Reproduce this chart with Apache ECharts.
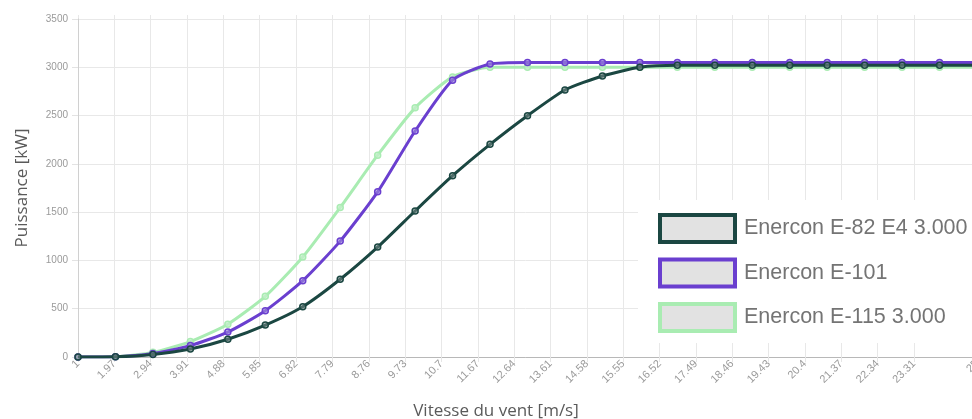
<!DOCTYPE html>
<html>
<head>
<meta charset="utf-8">
<script src="https://cdn.jsdelivr.net/npm/echarts@6/dist/echarts.min.js"></script>
<style>
  html, body { margin: 0; padding: 0; background: #fff; }
  #chart { width: 972px; height: 419px; }
</style>
</head>
<body>
<div id="chart"></div>
<script>
// Wind speeds (m/s) of the data points
const speeds = [1, 2, 3, 4, 5, 6, 7, 8, 9, 10, 11, 12, 13, 14, 15, 16, 17, 18, 19, 20, 21, 22, 23, 24, 25];
// Power (kW)
const e82 = [0, 2, 25, 82, 184, 331, 521, 805, 1138, 1512, 1877, 2202, 2499, 2765, 2910, 3000, 3020, 3020, 3020, 3020, 3020, 3020, 3020, 3020, 3020];
const e101 = [0, 3, 37, 118, 258, 479, 790, 1200, 1710, 2340, 2867, 3034, 3050, 3050, 3050, 3050, 3050, 3050, 3050, 3050, 3050, 3050, 3050, 3050, 3050];
const e115 = [0, 3, 48, 160, 340, 628, 1036, 1549, 2090, 2580, 2900, 3000, 3000, 3000, 3000, 3000, 3000, 3000, 3000, 3000, 3000, 3000, 3000, 3000, 3000];
// X tick labels: start and step of the axis ticks
const tickStart = 1;
const tickStep = 0.97;
const tickLastShown = 23.31;
const speedMax = 25;
const names = ['Enercon E-82 E4 3.000', 'Enercon E-101', 'Enercon E-115 3.000'];
const colors = ['#1b4742', '#6a3fcf', '#a9ecb2'];
const markerFill = ['rgba(120,140,138,0.55)', 'rgba(160,140,220,0.6)', 'rgba(200,240,205,0.7)'];

const pairs = arr => speeds.map((s, i) => [s, arr[i]]);

function mkSeries(idx, arr, z) {
  return {
    name: names[idx],
    type: 'line',
    xAxisIndex: 1,
    yAxisIndex: 1,
    data: pairs(arr),
    smooth: 0.2,
    z: z,
    symbol: 'circle',
    symbolSize: 6,
    showSymbol: true,
    lineStyle: { color: colors[idx], width: 3 },
    itemStyle: { color: markerFill[idx], borderColor: colors[idx], borderWidth: 1.5 },
    emphasis: { disabled: true }
  };
}

const chart = echarts.init(document.getElementById('chart'), null, { renderer: 'canvas' });
chart.setOption({
  animation: false,
  backgroundColor: '#ffffff',
  grid: [
    { left: 78, width: 836, top: 15, bottom: 62, outerBoundsMode: 'none', containLabel: false },
    { left: 78, width: 899, top: 19, bottom: 62, outerBoundsMode: 'none', containLabel: false }
  ],
  xAxis: [
    {
      gridIndex: 0,
      type: 'value',
      min: tickStart,
      max: tickLastShown,
      interval: tickStep,
      axisLine: { show: false },
      axisTick: { show: true, length: 5, lineStyle: { color: '#e6e6e6' } },
      splitLine: { show: true, lineStyle: { color: '#e8e8e8', width: 1 } },
      axisLabel: {
        rotate: 45, fontSize: 11, color: '#9a9a9a', margin: 5, hideOverlap: false,
        fontFamily: 'Liberation Sans, Arial, sans-serif',
        formatter: v => String(+v.toFixed(2))
      },
      name: 'Vitesse du vent [m/s]',
      nameLocation: 'middle',
      nameGap: 46,
      nameTextStyle: { fontSize: 17, color: '#5a5a5a', fontFamily: 'Open Sans, sans-serif' }
    },
    {
      gridIndex: 1,
      type: 'value',
      min: tickStart,
      max: speedMax,
      interval: speedMax - tickStart,
      axisLine: { show: true, lineStyle: { color: '#b8b8b8', width: 1 } },
      axisTick: { show: false },
      splitLine: { show: false },
      axisLabel: {
        rotate: 45, fontSize: 11, color: '#9a9a9a', margin: 5,
        showMinLabel: false,
        fontFamily: 'Liberation Sans, Arial, sans-serif',
        formatter: v => (v === speedMax ? String(v) : '')
      }
    }
  ],
  yAxis: [
    { gridIndex: 0, type: 'value', min: 0, max: 3500, show: false },
    {
      gridIndex: 1,
      type: 'value',
      min: 0,
      max: 3500,
      interval: 500,
      axisLine: { show: true, lineStyle: { color: '#d0d0d0', width: 1 } },
      axisTick: { show: true, length: 6, lineStyle: { color: '#e3e3e3' } },
      splitLine: { show: true, lineStyle: { color: '#e8e8e8', width: 1 } },
      axisLabel: {
        fontSize: 10, color: '#9a9a9a', margin: 10,
        fontFamily: 'Liberation Sans, Arial, sans-serif',
        formatter: v => String(v)
      },
      name: 'Puissance [kW]',
      nameLocation: 'middle',
      nameGap: 47,
      nameTextStyle: { fontSize: 17, color: '#5a5a5a', fontFamily: 'Open Sans, sans-serif' }
    }
  ],
  legend: {
    orient: 'vertical',
    left: 638,
    top: 200,
    backgroundColor: '#ffffff',
    padding: [13, 20, 10, 20],
    icon: 'rect',
    itemWidth: 75,
    itemHeight: 27,
    itemGap: 13.5,
    selectedMode: false,
    textStyle: { fontSize: 21.5, color: '#747474', fontFamily: 'Liberation Sans, Arial, sans-serif', padding: [0, 0, 0, 4] },
    data: names.map((n, i) => ({
      name: n,
      itemStyle: { color: '#e2e2e2', borderColor: colors[i], borderWidth: 4 }
    }))
  },
  series: [
    mkSeries(2, e115, 2),
    mkSeries(1, e101, 3),
    mkSeries(0, e82, 4)
  ]
});
</script>
</body>
</html>
